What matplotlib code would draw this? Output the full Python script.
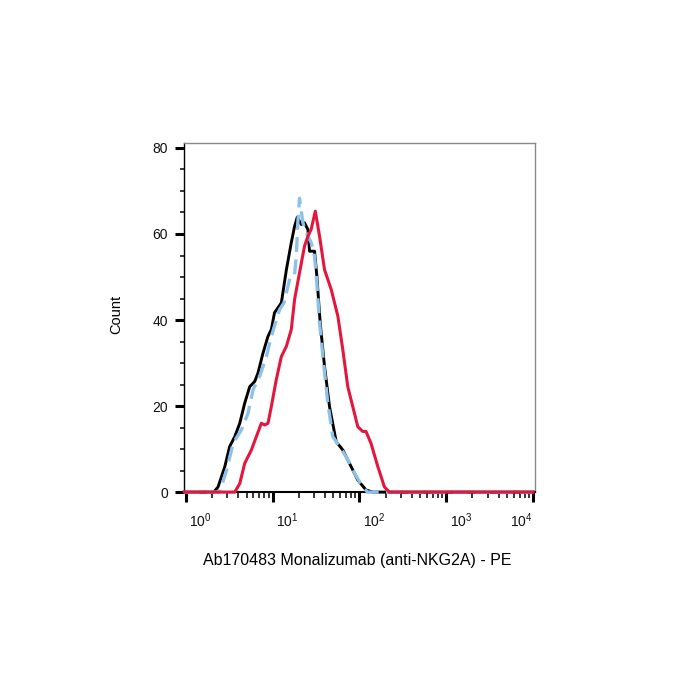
import matplotlib
matplotlib.use('Agg')
import matplotlib.pyplot as plt
from matplotlib.ticker import FixedLocator, LogLocator, MultipleLocator, NullFormatter

plt.rcParams['font.family'] = ['Liberation Sans', 'DejaVu Sans']
plt.rcParams['mathtext.default'] = 'regular'

# fluorescence intensity (PE) and counts
black_x = [0.96, 2.10, 2.35, 2.81, 3.20, 3.66, 4.18, 4.77, 5.44, 6.21, 6.78, 7.74, 8.83,
           9.66, 10.5, 12.6, 14.4, 16.4, 17.9, 19.2, 21.4, 23.3, 25.5, 26.6, 30.4, 32.3,
           35.3, 39.6, 45.2, 54.0, 64.3, 76.7, 95.7, 119, 142, 10000]
black_y = [0, 0, 1.2, 5.9, 10.6, 12.9, 16.0, 20.7, 24.5, 25.7, 27.7, 32.3, 36.2,
           37.8, 41.7, 44.0, 51.7, 58.0, 61.8, 63.9, 62.2, 62.6, 61.0, 56.0, 56.0, 50.2,
           39.3, 29.2, 19.9, 11.7, 9.8, 6.7, 2.8, 0.5, 0, 0]

blue_x = [0.96, 2.40, 2.55, 2.95, 3.50, 4.37, 5.20, 5.94, 7.09, 8.47, 9.66, 11.0, 12.0,
          13.5, 16.0, 17.9, 18.7, 19.5, 20.4, 22.3, 24.4, 27.8, 30.4, 32.3, 34.7, 38.6,
          43.2, 49.3, 58.9, 70.3, 87.7, 109, 124, 10000]
blue_y = [0, 0, 1.2, 5.1, 11.3, 14.5, 18.3, 23.8, 26.9, 31.5, 36.2, 40.0, 42.4,
          44.0, 50.2, 50.6, 54.8, 62.6, 68.3, 62.6, 60.3, 58.0, 54.8, 48.6, 39.3, 30.0,
          20.7, 12.9, 10.6, 8.2, 4.4, 1.2, 0, 0]

red_x = [0.96, 3.66, 4.18, 4.77, 5.69, 6.49, 7.41, 8.09, 8.84, 9.66, 11.0, 12.6, 14.4,
         16.4, 17.9, 20.4, 23.3, 25.5, 27.8, 31.0, 34.7, 39.6, 47.3, 56.4, 64.3, 73.4,
         83.7, 95.7, 109, 119, 136, 163, 194, 221, 10000]
red_y = [0, 0, 2.0, 6.7, 9.8, 12.9, 16.0, 15.6, 16.0, 19.9, 26.1, 31.5, 33.9,
         37.8, 44.8, 51.0, 57.2, 59.5, 61.1, 65.3, 59.5, 51.7, 47.1, 40.9, 33.1, 24.5,
         19.9, 15.2, 14.1, 14.1, 11.3, 5.9, 1.2, 0, 0]

x_ticks = [1, 10, 100, 1000, 10000]
x_labels = ['10$^{0}$', '10$^{1}$', '10$^{2}$', '10$^{3}$', '10$^{4}$']
y_ticks = [0, 20, 40, 60, 80]

fig = plt.figure(figsize=(7, 7), dpi=100)
ax = fig.add_axes([0.263, 0.297, 0.501, 0.499])

ax.plot(black_x, black_y, color='black', lw=2.1, clip_on=False, zorder=3)
ax.plot(blue_x, blue_y, color='#8cc2ea', lw=2.4, ls=(0, (4.5, 2.2)), clip_on=False, zorder=4)
ax.plot(red_x, red_y, color='#e3173e', lw=2.2, clip_on=False, zorder=5)

ax.set_xscale('log')
ax.set_xlim(10 ** -0.02, 10 ** 4.02)
ax.set_ylim(0, 81.2)

ax.xaxis.set_major_locator(FixedLocator(x_ticks))
ax.xaxis.set_minor_locator(LogLocator(base=10, subs=range(2, 10)))
ax.xaxis.set_minor_formatter(NullFormatter())
ax.set_xticklabels([])
ax.yaxis.set_major_locator(FixedLocator(y_ticks))
ax.yaxis.set_minor_locator(MultipleLocator(5))

ax.tick_params(axis='both', which='major', direction='out', width=2.2, color='black',
               labelsize=10, labelcolor='#111111')
ax.tick_params(axis='y', which='major', length=6.5, pad=5)
ax.tick_params(axis='x', which='major', length=7.5)
ax.tick_params(axis='y', which='minor', direction='out', length=3, width=1.1, color='black')
ax.tick_params(axis='x', which='minor', direction='out', length=4.5, width=1.1, color='black')

for s in ['top', 'right']:
    ax.spines[s].set_color('#888888')
    ax.spines[s].set_linewidth(1)
ax.spines['left'].set_linewidth(1)
ax.spines['bottom'].set_linewidth(1.5)

# decade labels sit just right of their ticks, the last one ends at it
for i, (t, lab) in enumerate(zip(x_ticks, x_labels)):
    ha = 'right' if i == len(x_ticks) - 1 else 'left'
    ax.text(t * (1.1 if ha == 'left' else 1.0), -4.5, lab, ha=ha, va='top',
            fontsize=10, color='#111111')

fig.text(116 / 700, 1 - 314 / 700, 'Count', rotation=90, ha='center', va='center', fontsize=10.5)
fig.text(357 / 700, 1 - 560 / 700, 'Ab170483 Monalizumab (anti-NKG2A) - PE',
         ha='center', va='center', fontsize=11.5)

fig.savefig('out.png', dpi=100, facecolor='white')
